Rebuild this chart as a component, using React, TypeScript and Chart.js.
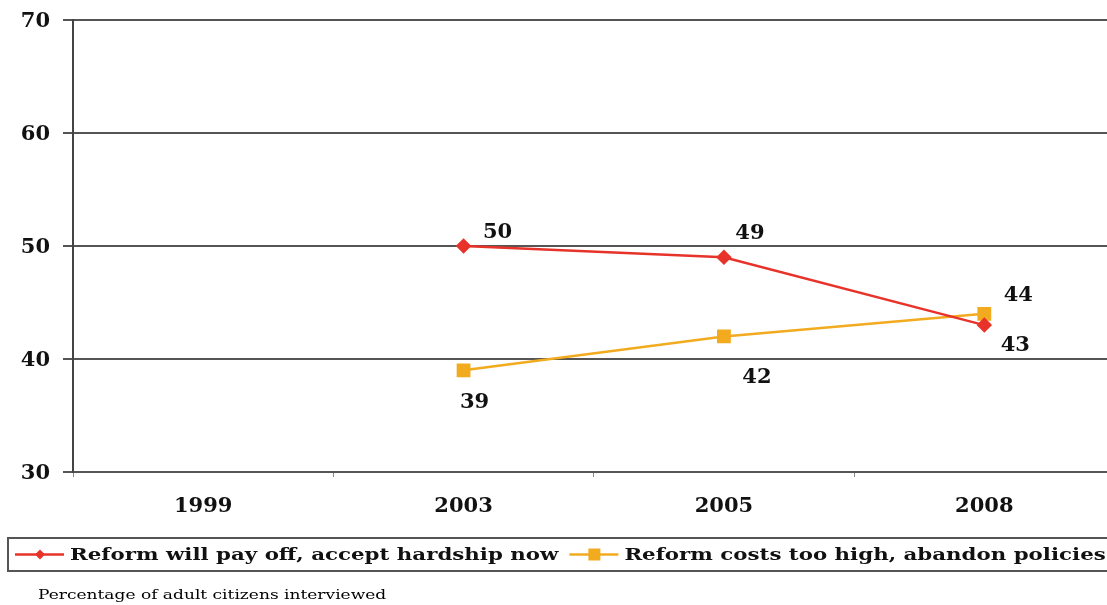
import { useEffect, useRef } from "react";
import { Chart, registerables } from "chart.js";

Chart.register(...registerables);

// Survey years and the share of respondents for each answer (%)
const years = ["1999", "2003", "2005", "2008"];
const payOffValues: (number | null)[] = [null, 50, 49, 43];
const tooHighValues: (number | null)[] = [null, 39, 42, 44];
const seriesNames = [
  "Reform will pay off, accept hardship now",
  "Reform costs too high, abandon policies",
];
const yTickValues = [30, 40, 50, 60, 70];
const footnote = "Percentage of adult citizens interviewed";

const SERIF = "'DejaVu Serif', 'Liberation Serif', serif";
const RED = "#e8332b";
const ORANGE = "#f2ab1f";
// Legend and footnote lettering is set wide
const LEGEND_STRETCH = 1.255;
const NOTE_STRETCH = 1.31;

// Where each value label sits relative to its point (dx, dy of text centre)
const labelOffsets: ([number, number] | null)[][] = [
  [null, [34, -13], [26, -24], [31, 20]],
  [null, [11, 32], [33, 41], [34, -18]],
];

const valueLabels = {
  id: "valueLabels",
  afterDatasetsDraw(chart: Chart) {
    const ctx = chart.ctx;
    ctx.save();
    ctx.font = `bold 21px ${SERIF}`;
    ctx.fillStyle = "#111";
    ctx.textAlign = "center";
    ctx.textBaseline = "middle";
    chart.data.datasets.forEach((ds, di) => {
      const meta = chart.getDatasetMeta(di);
      meta.data.forEach((pt, i) => {
        const v = ds.data[i] as number | null;
        const off = labelOffsets[di][i];
        if (v == null || !off) return;
        ctx.fillText(String(v), pt.x + off[0], pt.y + off[1]);
      });
    });
    ctx.restore();
  },
};

function wideText(ctx: CanvasRenderingContext2D, text: string, x: number, y: number, stretch: number) {
  ctx.save();
  ctx.translate(x, y);
  ctx.scale(stretch, 1);
  ctx.fillText(text, 0, 0);
  ctx.restore();
  return ctx.measureText(text).width * stretch;
}

// Boxed legend with line + marker swatches, and the footnote beneath it
const boxedLegend = {
  id: "boxedLegend",
  afterDraw(chart: Chart) {
    const ctx = chart.ctx;
    const top = 538;
    const bottom = 571;
    const midY = (top + bottom) / 2;
    ctx.save();
    ctx.strokeStyle = "#555";
    ctx.lineWidth = 2;
    ctx.strokeRect(8, top, chart.width, bottom - top);

    ctx.font = `bold 17px ${SERIF}`;
    ctx.textBaseline = "middle";
    ctx.textAlign = "left";
    let x = 15;
    chart.data.datasets.forEach((ds: any, di) => {
      const color = ds.borderColor as string;
      ctx.strokeStyle = color;
      ctx.lineWidth = 2.5;
      ctx.beginPath();
      ctx.moveTo(x, midY);
      ctx.lineTo(x + 49, midY);
      ctx.stroke();
      ctx.fillStyle = ds.pointBackgroundColor;
      ctx.beginPath();
      const cx = x + 25;
      if (ds.pointStyle === "rectRot") {
        const r = 5;
        ctx.moveTo(cx, midY - r);
        ctx.lineTo(cx + r, midY);
        ctx.lineTo(cx, midY + r);
        ctx.lineTo(cx - r, midY);
        ctx.closePath();
      } else {
        ctx.rect(cx - 6, midY - 6, 12, 12);
      }
      ctx.fill();
      ctx.fillStyle = "#111";
      const w = wideText(ctx, seriesNames[di], x + 55, midY + 1, LEGEND_STRETCH);
      x += 55 + w + 11;
    });

    ctx.font = `13px ${SERIF}`;
    ctx.fillStyle = "#000";
    wideText(ctx, footnote, 38, 596, NOTE_STRETCH);
    ctx.restore();
  },
};

export default function App() {
  const canvasRef = useRef<HTMLCanvasElement | null>(null);

  useEffect(() => {
    const canvas = canvasRef.current;
    if (!canvas) return;
    const chart = new Chart(canvas, {
      type: "line",
      data: {
        labels: years,
        datasets: [
          {
            label: seriesNames[0],
            data: payOffValues,
            borderColor: RED,
            backgroundColor: RED,
            pointBackgroundColor: RED,
            pointBorderColor: RED,
            pointStyle: "rectRot",
            pointRadius: 6,
            borderWidth: 2.5,
          },
          {
            label: seriesNames[1],
            data: tooHighValues,
            borderColor: ORANGE,
            backgroundColor: ORANGE,
            pointBackgroundColor: ORANGE,
            pointBorderColor: ORANGE,
            pointStyle: "rect",
            pointRadius: 8,
            borderWidth: 2.5,
          },
        ],
      },
      options: {
        responsive: false,
        animation: false,
        layout: { padding: { top: 20, right: 10, bottom: 93, left: 0 } },
        plugins: {
          legend: { display: false },
          tooltip: { enabled: false },
        },
        scales: {
          x: {
            offset: true,
            grid: {
              offset: true,
              drawOnChartArea: false,
              tickLength: 5,
              color: "#888",
              lineWidth: 1,
            },
            border: { display: true, color: "#555", width: 2 },
            ticks: {
              padding: 17,
              color: "#111",
              font: { family: SERIF, size: 21, weight: "bold" },
            },
            afterFit(scale: any) {
              scale.height = 40;
            },
          },
          y: {
            min: 30,
            max: 70,
            grid: { color: "#555", lineWidth: 2, tickLength: 10 },
            border: { display: true, color: "#444", width: 2 },
            ticks: {
              padding: 13,
              labelOffset: 2,
              color: "#111",
              font: { family: SERIF, size: 21, weight: "bold" },
            },
            afterBuildTicks(scale: any) {
              scale.ticks = yTickValues.map((value) => ({ value }));
            },
            afterFit(scale: any) {
              scale.width = 73;
              scale.paddingTop = 0;
              scale.paddingBottom = 0;
            },
          },
        },
      },
      plugins: [valueLabels, boxedLegend],
    });
    return () => chart.destroy();
  }, []);

  return (
    <div
      style={{
        position: "fixed",
        left: 0,
        top: 0,
        width: 1107,
        height: 605,
        overflow: "hidden",
        background: "#fff",
      }}
    >
      <canvas ref={canvasRef} width={1125} height={605} style={{ display: "block" }} />
    </div>
  );
}
